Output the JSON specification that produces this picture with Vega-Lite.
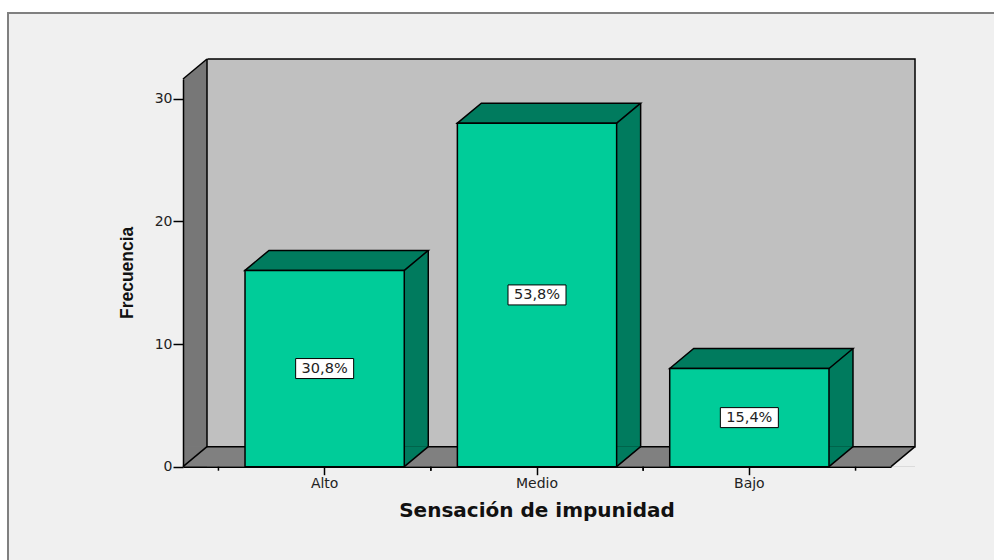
{
  "$schema": "https://vega.github.io/schema/vega-lite/v6.json",
  "width": 990,
  "height": 551,
  "autosize": {"type": "none"},
  "padding": {"left": 8, "top": 13, "right": -4, "bottom": -4},
  "background": "white",
  "config": {"view": {"fill": "#f0f0f0", "stroke": "#808080", "strokeWidth": 2}},
  "data": {"values": [
    {"cat": "Alto", "value": 16, "pct": "30,8%"},
    {"cat": "Medio", "value": 28, "pct": "53,8%"},
    {"cat": "Bajo", "value": 8, "pct": "15,4%"}
  ]},
  "resolve": {"scale": {"x": "independent", "y": "independent"}},
  "layer": [
    {
      "data": {"values": [{}]},
      "layer": [
        {
          "mark": {"type": "rect", "fill": "#777777", "strokeWidth": 0, "x2Offset": 24, "y2Offset": -20},
          "encoding": {
            "x": {"datum": 0, "type": "quantitative", "scale": {"domain": [0, 1], "range": [175, 883], "nice": false, "zero": false}, "axis": null},
            "x2": {"datum": 0},
            "y": {"datum": 0, "type": "quantitative", "scale": {"domain": [0, 31.6], "range": [453.7, 66], "nice": false},
              "axis": {"values": [0, 10, 20, 30], "offset": -175, "tickSize": 10, "labelPadding": 1, "domainColor": "black", "domainWidth": 1.5, "tickColor": "black", "tickWidth": 1.5, "labelFont": "DejaVu Sans", "labelFontSize": 14, "labelColor": "#222222", "title": null, "grid": false, "zindex": 1}},
            "y2": {"datum": 31.6}
          }
        },
        {
          "mark": {"type": "rect", "fill": "#808080", "strokeWidth": 0, "x2Offset": 24, "y2Offset": -20},
          "encoding": {
            "x": {"datum": 0, "type": "quantitative", "axis": null},
            "x2": {"datum": 1},
            "y": {"datum": 0, "type": "quantitative"},
            "y2": {"datum": 0}
          }
        },
        {
          "mark": {"type": "point", "shape": "M0,0 L0,-20 L24,-20 Z", "size": 4, "filled": true, "fill": "#777777", "strokeWidth": 0, "opacity": 1},
          "encoding": {
            "x": {"datum": 0, "type": "quantitative", "axis": null},
            "y": {"datum": 0, "type": "quantitative"}
          }
        },
        {
          "mark": {"type": "rect", "fill": "#c0c0c0", "stroke": "black", "strokeWidth": 1.5, "xOffset": 24, "x2Offset": 24, "yOffset": -20, "y2Offset": -20},
          "encoding": {
            "x": {"datum": 0, "type": "quantitative", "axis": null},
            "x2": {"datum": 1},
            "y": {"datum": 0, "type": "quantitative"},
            "y2": {"datum": 31.6}
          }
        },
        {
          "mark": {"type": "point", "shape": "M0,0 L0,-21 L25,-21 Z", "size": 4, "filled": true, "fill": "#f0f0f0", "strokeWidth": 0, "opacity": 1},
          "encoding": {
            "x": {"datum": 0, "type": "quantitative", "axis": null},
            "y": {"datum": 31.6, "type": "quantitative"}
          }
        },
        {
          "mark": {"type": "point", "shape": "M0,0 L24,-20 L25,0 Z", "size": 4, "filled": true, "fill": "#f0f0f0", "strokeWidth": 0, "opacity": 1},
          "encoding": {
            "x": {"datum": 1, "type": "quantitative", "axis": null},
            "y": {"datum": 0, "type": "quantitative"}
          }
        },
        {
          "mark": {"type": "point", "shape": "M0,0 L24,-20", "size": 4, "filled": false, "stroke": "black", "strokeWidth": 1.5, "opacity": 1},
          "encoding": {
            "x": {"datum": 0, "type": "quantitative", "axis": null},
            "y": {"datum": 31.6, "type": "quantitative"}
          }
        },
        {
          "mark": {"type": "point", "shape": "M0,0 L24,-20", "size": 4, "filled": false, "stroke": "black", "strokeWidth": 1.5, "opacity": 1},
          "encoding": {
            "x": {"datum": 0, "type": "quantitative", "axis": null},
            "y": {"datum": 0, "type": "quantitative"}
          }
        },
        {
          "mark": {"type": "point", "shape": "M0,0 L24,-20", "size": 4, "filled": false, "stroke": "black", "strokeWidth": 1.5, "opacity": 1},
          "encoding": {
            "x": {"datum": 1, "type": "quantitative", "axis": null},
            "y": {"datum": 0, "type": "quantitative"}
          }
        },
        {
          "mark": {"type": "text", "font": "DejaVu Sans", "fontWeight": "bold", "fontSize": 20, "fill": "#111111", "align": "center", "baseline": "alphabetic", "yOffset": 50},
          "encoding": {
            "x": {"datum": 0.5, "type": "quantitative", "axis": null},
            "y": {"datum": 0, "type": "quantitative"},
            "text": {"value": "Sensación de impunidad"}
          }
        },
        {
          "mark": {"type": "text", "font": "Liberation Sans", "fontWeight": "bold", "fontSize": 17.5, "fill": "#111111", "align": "center", "baseline": "alphabetic", "angle": 270, "xOffset": -50},
          "encoding": {
            "x": {"datum": 0, "type": "quantitative", "axis": null},
            "y": {"datum": 15.8, "type": "quantitative"},
            "text": {"value": "Frecuencia"}
          }
        }
      ]
    },
    {
      "encoding": {
        "x": {"field": "cat", "type": "nominal", "sort": ["Alto", "Medio", "Bajo"],
          "scale": {"type": "band", "range": [175, 883], "paddingInner": 0.25, "paddingOuter": 0.292},
          "axis": {"orient": "bottom", "offset": -97.3, "bandPosition": 0.5, "tickSize": 8, "tickColor": "black", "tickWidth": 1.5, "domainColor": "black", "domainWidth": 1.5, "labelFont": "DejaVu Sans", "labelFontSize": 14, "labelColor": "#222222", "labelPadding": 2, "labelAngle": 0, "title": null, "zindex": 1}},
        "y": {"field": "value", "type": "quantitative", "scale": {"domain": [0, 31.6], "range": [453.7, 66], "nice": false}, "axis": null}
      },
      "layer": [
        {
          "mark": {"type": "bar", "fill": "#007b5e", "strokeWidth": 0, "xOffset": 24, "yOffset": -20, "y2Offset": -20},
          "encoding": {"y2": {"datum": 0}}
        },
        {
          "mark": {"type": "rule", "stroke": "black", "strokeWidth": 1.5, "xOffset": 24, "yOffset": -20, "y2Offset": -20},
          "encoding": {"x": {"field": "cat", "type": "nominal", "sort": ["Alto", "Medio", "Bajo"], "bandPosition": 1}, "y2": {"datum": 0}}
        },
        {
          "mark": {"type": "point", "shape": "M-79.65,0 L-55.65,-20 L103.65,-20 L79.65,0 Z", "size": 4, "filled": true, "fill": "#007b5e", "stroke": "black", "strokeWidth": 1.5, "opacity": 1}
        },
        {
          "mark": {"type": "point", "shape": "M79.65,0 L79.65,-20 L103.65,-20 Z", "size": 4, "filled": true, "fill": "#007b5e", "strokeWidth": 0, "opacity": 1},
          "encoding": {"y": {"datum": 0, "type": "quantitative"}}
        },
        {
          "mark": {"type": "point", "shape": "M79.65,0 L103.65,-20", "size": 4, "filled": false, "stroke": "black", "strokeWidth": 1.5, "opacity": 1},
          "encoding": {"y": {"datum": 0, "type": "quantitative"}}
        },
        {
          "mark": {"type": "bar", "fill": "#00cc99", "stroke": "black", "strokeWidth": 1.5},
          "encoding": {"y2": {"datum": 0}}
        },
        {
          "mark": {"type": "rule", "stroke": "black", "strokeWidth": 1.5, "xOffset": -106.2, "y2Offset": 4},
          "encoding": {"y": {"datum": 0, "type": "quantitative"}, "y2": {"datum": 0}}
        },
        {
          "mark": {"type": "rule", "stroke": "black", "strokeWidth": 1.5, "xOffset": 106.2, "y2Offset": 4},
          "encoding": {"y": {"datum": 0, "type": "quantitative"}, "y2": {"datum": 0}}
        }
      ]
    },
    {
      "encoding": {
        "x": {"field": "cat", "type": "nominal", "sort": ["Alto", "Medio", "Bajo"],
          "scale": {"type": "band", "range": [175, 883], "paddingInner": 0.25, "paddingOuter": 0.292}, "axis": null},
        "y": {"field": "value", "type": "quantitative", "scale": {"domain": [0, 63.2], "range": [453.7, 66], "nice": false}, "axis": null}
      },
      "layer": [
        {
          "mark": {"type": "point", "shape": "M-29,-10 L29,-10 L29,10 L-29,10 Z", "size": 4, "filled": true, "fill": "white", "stroke": "black", "strokeWidth": 1, "opacity": 1}
        },
        {
          "mark": {"type": "text", "font": "DejaVu Sans", "fontSize": 14.5, "fill": "#222222", "align": "center", "baseline": "middle"},
          "encoding": {"text": {"field": "pct", "type": "nominal"}}
        }
      ]
    }
  ]
}
